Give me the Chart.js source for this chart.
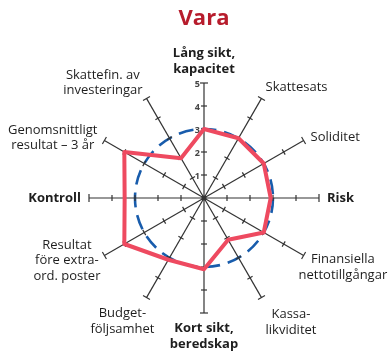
<!DOCTYPE html>
<html>
<head>
<meta charset="utf-8">
<script src="https://cdn.jsdelivr.net/npm/chart.js@4.4.1/dist/chart.umd.min.js"></script>
<style>
  html, body { margin: 0; padding: 0; background: #fff; }
  #wrap { width: 391px; height: 356px; }
</style>
</head>
<body>
<div id="wrap"><canvas id="radarChart"></canvas></div>
<script>
// Axes, clockwise from the top
const categories = [
    ['Lång sikt,', 'kapacitet'],
    ['Skattesats'],
    ['Soliditet'],
    ['Risk'],
    ['Finansiella', 'nettotillgångar'],
    ['Kassa-', 'likviditet'],
    ['Kort sikt,', 'beredskap'],
    ['Budget-', 'följsamhet'],
    ['Resultat', 'före extra-', 'ord. poster'],
    ['Kontroll'],
    ['Genomsnittligt', 'resultat – 3 år'],
    ['Skattefin. av', 'investeringar']
];
const varaValues = [3, 3, 3, 2.9, 3, 2.1, 3.1, 3.1, 4, 3.45, 4, 2];
const referenceLevel = 3;
const tickValues = [1, 2, 3, 4, 5];

// the four main directions get bold labels
const mainAxes = [0, 3, 6, 9];
// small hand adjustments of the axis names [dx, dy]
const labelShift = [[0, 2], [0, 2], [0, 3], [0, 0], [-12, 4], [0, 6],
                    [0, 0], [12, 5], [3, -5], [0, 0], [0, 5], [0, 3]];

const FONT = '"Open Sans", "DejaVu Sans", sans-serif';
const RED = 'rgb(238, 74, 96)';
const BLUE = 'rgb(24, 92, 172)';
const AXIS = '#333';

// Tick marks, tick numbers and axis names
const spokeDecor = {
    id: 'spokeDecor',
    beforeDatasetsDraw(chart) {
        const scale = chart.scales.r;
        const ctx = chart.ctx;
        ctx.save();
        ctx.strokeStyle = AXIS;
        ctx.lineWidth = 1.2;
        categories.forEach((_, i) => {
            tickValues.forEach(v => {
                const p = scale.getPointPositionForValue(i, v);
                const nx = -Math.sin(p.angle), ny = Math.cos(p.angle);
                const half = v === scale.max ? 4 : 3;
                ctx.beginPath();
                ctx.moveTo(p.x - nx * half, p.y - ny * half);
                ctx.lineTo(p.x + nx * half, p.y + ny * half);
                ctx.stroke();
            });
        });

        ctx.fillStyle = AXIS;
        ctx.beginPath();
        ctx.arc(scale.xCenter, scale.yCenter, 2.5, 0, Math.PI * 2);
        ctx.fill();

        // numbers on the top axis
        ctx.fillStyle = '#444';
        ctx.font = 'bold 9px ' + FONT;
        ctx.textAlign = 'right';
        ctx.textBaseline = 'middle';
        tickValues.forEach(v => {
            const p = scale.getPointPositionForValue(0, v);
            ctx.fillText(String(v), p.x - 4, p.y + 1);
        });
        ctx.restore();
    },
    afterDraw(chart) {
        const scale = chart.scales.r;
        const ctx = chart.ctx;
        const lh = 15.5;
        ctx.save();
        ctx.fillStyle = '#1e1e1e';
        ctx.textAlign = 'center';
        ctx.textBaseline = 'middle';
        categories.forEach((lines, i) => {
            ctx.font = (mainAxes.includes(i) ? 'bold ' : '') + '13px ' + FONT;
            const a = scale.getIndexAngle(i);
            const s = Math.sin(a), c = Math.cos(a);
            const p = scale.getPointPosition(i, scale.drawingArea + 8);
            const w = Math.max(...lines.map(t => ctx.measureText(t).width));
            const h = lines.length * lh;
            let cx = p.x;
            if (s > 0.01) cx = p.x + w / 2;
            else if (s < -0.01) cx = p.x - w / 2;
            let cy = p.y - Math.sign(c) * c * c * h / 2;
            cx += labelShift[i][0];
            cy += labelShift[i][1];
            lines.forEach((t, k) => {
                ctx.fillText(t, cx, cy - h / 2 + lh * (k + 0.5));
            });
        });
        ctx.restore();
    }
};

new Chart(document.getElementById('radarChart'), {
    type: 'radar',
    data: {
        labels: categories,
        datasets: [{
            label: 'Vara',
            data: varaValues,
            borderColor: RED,
            borderWidth: 4,
            borderJoinStyle: 'round',
            backgroundColor: 'transparent',
            fill: false,
            pointRadius: 0,
            tension: 0
        }]
    },
    options: {
        responsive: true,
        maintainAspectRatio: false,
        animation: false,
        layout: { padding: { left: 88, right: 71, top: 0, bottom: 42 } },
        plugins: {
            legend: { display: false },
            tooltip: { enabled: false },
            title: {
                display: true,
                text: 'Vara',
                color: '#b71c2c',
                font: { family: FONT, size: 22, weight: 'bold' },
                padding: { top: 6, bottom: 50 }
            }
        },
        scales: {
            r: {
                min: 0,
                max: 5,
                ticks: { display: false, stepSize: 1 },
                pointLabels: { display: false },
                angleLines: { color: AXIS, lineWidth: 1.2 },
                grid: {
                    circular: true,
                    color: c => c.tick && c.tick.value === referenceLevel ? BLUE : 'transparent',
                    lineWidth: 2.6
                },
                border: { dash: [15, 8] }
            }
        }
    },
    plugins: [spokeDecor]
});
</script>
</body>
</html>
